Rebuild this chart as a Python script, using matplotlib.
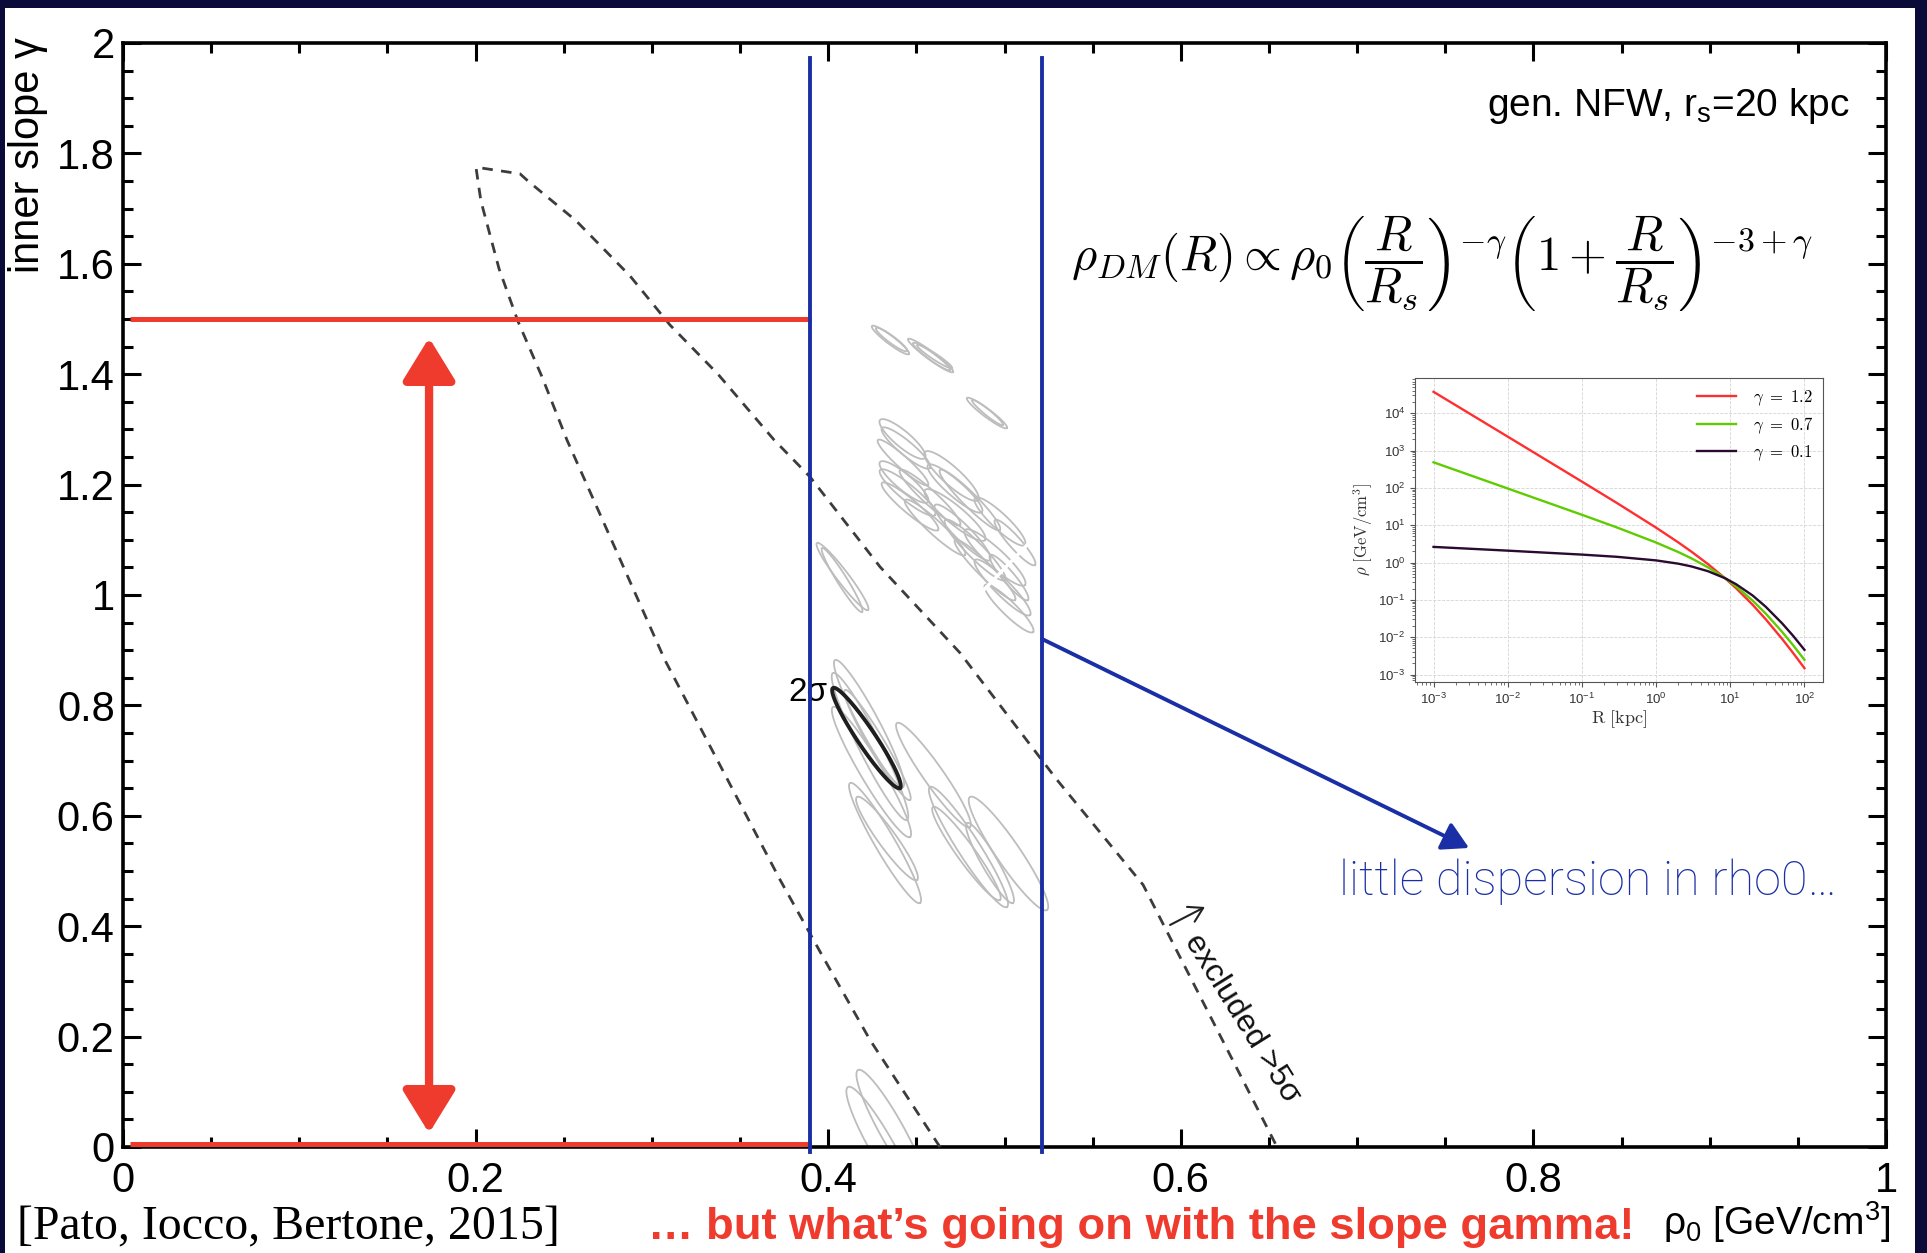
import numpy as np
import matplotlib
matplotlib.use('Agg')
import matplotlib.pyplot as plt
from matplotlib.patches import Rectangle, FancyArrowPatch
from matplotlib.ticker import MultipleLocator, FixedLocator, FixedFormatter

plt.rcParams['font.family'] = ['Liberation Sans', 'DejaVu Sans']
plt.rcParams['mathtext.fontset'] = 'cm'
plt.rcParams['mathtext.rm'] = 'Liberation Sans'
plt.rcParams['mathtext.it'] = 'Liberation Sans:italic'
plt.rcParams['mathtext.bf'] = 'Liberation Sans:bold'
plt.rcParams['mathtext.sf'] = 'Liberation Sans'

# ---------------- data ----------------
x_ticks = [0, 0.2, 0.4, 0.6, 0.8, 1.0]
x_ticklabels = ['0', '0.2', '0.4', '0.6', '0.8', '1']
y_ticks = [0, 0.2, 0.4, 0.6, 0.8, 1.0, 1.2, 1.4, 1.6, 1.8, 2.0]
y_ticklabels = ['0', '0.2', '0.4', '0.6', '0.8', '1', '1.2', '1.4', '1.6', '1.8', '2']

rho0_band = [0.3897, 0.5213]          # blue vertical lines
rho0_band_gamma = [-0.009, 1.973]
gamma_band = [0.006, 1.5]             # red horizontal lines
gamma_band_rho = [0.004, 0.39]
arrow_rho = 0.1736
arrow_gamma = [0.025, 1.466]

# excluded >5 sigma dashed boundaries
left_rho = [0.2002, 0.2030, 0.2133, 0.2240, 0.2377, 0.2518, 0.3074, 0.3727, 0.3971, 0.4237, 0.4634]
left_gamma = [1.775, 1.714, 1.591, 1.496, 1.395, 1.281, 0.882, 0.484, 0.344, 0.194, 0.0]
right_rho = [0.2002, 0.2252, 0.2297, 0.2570, 0.2876, 0.3103, 0.3375, 0.3693, 0.3897, 0.4294,
             0.4748, 0.5298, 0.5786, 0.6546]
right_gamma = [1.775, 1.763, 1.750, 1.678, 1.578, 1.489, 1.400, 1.281, 1.214, 1.051,
               0.895, 0.665, 0.475, 0.0]

# grey 2-sigma contours: major-axis end points (rho0, gamma) and semi-minor width (rho0 units)
ell_x1 = [0.4248, 0.4271, 0.4453, 0.4481, 0.4504, 0.4787, 0.4816, 0.3936, 0.3965,
          0.4294, 0.4305, 0.4294, 0.4294, 0.4305, 0.4549, 0.4566, 0.4549, 0.4606, 0.4833,
          0.4776, 0.4833, 0.4889, 0.4663, 0.4918,
          0.4282, 0.4407, 0.4634, 0.4719, 0.4946, 0.4436,
          0.4039, 0.4027, 0.4027, 0.4124, 0.4163, 0.4390, 0.4577, 0.4594, 0.4804, 0.4787, 0.4095,
          0.4169, 0.4112]
ell_y1 = [1.4873, 1.4837, 1.4638, 1.4565, 1.4529, 1.3569, 1.3533, 1.0942, 1.0851,
          1.3170, 1.3025, 1.2409, 1.2264, 1.2029, 1.2591, 1.2355, 1.1902, 1.1630, 1.1757,
          1.1178, 1.0634, 1.0181, 1.1359, 1.0725,
          1.2808, 1.2264, 1.2264, 1.0996, 1.1359, 1.1721,
          0.8822, 0.8587, 0.7971, 0.6594, 0.6341, 0.7681, 0.6522, 0.6159, 0.6341, 0.5870, 0.8279,
          0.1395, 0.1087]
ell_x2 = [0.4458, 0.4447, 0.4708, 0.4691, 0.4702, 0.5014, 0.4991, 0.4226, 0.4192,
          0.4549, 0.4577, 0.4566, 0.4606, 0.4623, 0.4850, 0.4872, 0.4889, 0.4918, 0.5116,
          0.5116, 0.5145, 0.5162, 0.5003, 0.5133,
          0.4566, 0.4748, 0.4974, 0.5060, 0.5173, 0.4776,
          0.4424, 0.4447, 0.4464, 0.4521, 0.4504, 0.4804, 0.5014, 0.4974, 0.5241, 0.5048, 0.4464,
          0.4549, 0.4492]
ell_y2 = [1.4366, 1.4420, 1.4040, 1.4076, 1.4112, 1.3025, 1.3080, 0.9728, 0.9692,
          1.2482, 1.2301, 1.1685, 1.1449, 1.1178, 1.1721, 1.1504, 1.0996, 1.0634, 1.0906,
          1.0181, 0.9638, 0.9330, 1.0272, 0.9909,
          1.1993, 1.1268, 1.1178, 0.9909, 1.0543, 1.0725,
          0.6522, 0.5924, 0.5616, 0.4420, 0.4837, 0.5797, 0.4348, 0.4475, 0.4293, 0.4420, 0.6286,
          -0.0779, -0.1051]
ell_w = [0.0023, 0.0020, 0.0023, 0.0020, 0.0017, 0.0023, 0.0017, 0.0034, 0.0028,
         0.0045, 0.0040, 0.0045, 0.0045, 0.0040, 0.0051, 0.0045, 0.0051, 0.0045, 0.0045,
         0.0051, 0.0045, 0.0040, 0.0045, 0.0034,
         0.0034, 0.0040, 0.0040, 0.0040, 0.0034, 0.0040,
         0.0057, 0.0062, 0.0062, 0.0057, 0.0051, 0.0057, 0.0062, 0.0051, 0.0068, 0.0045, 0.0045,
         0.0068, 0.0068]
cut_rho = [0.4844, 0.5128]
cut_gamma = [0.9964, 1.0906]
sigma2_ell = [0.4027, 0.8315, 0.4407, 0.6504, 0.0051]

# blue pointer arrow
pointer_from = (0.5213, 0.9203)
pointer_to = (0.7635, 0.5417)
# excluded arrow
excl_from = (0.5939, 0.4022)
excl_to = (0.6137, 0.4348)

# inset: generalized NFW profiles
inset_R = [0.001, 0.01, 0.1, 0.3, 1, 2, 3, 5, 8.5, 12, 20, 30, 50, 70, 100]
rho_g12 = [3.73e4, 2.35e3, 147, 38.7, 8.59, 3.44, 1.95, 0.909, 0.38, 0.204, 0.074, 0.0304, 0.0090, 0.00382, 0.00148]
rho_g07 = [483, 96, 19.0, 8.62, 3.43, 1.90, 1.29, 0.745, 0.38, 0.229, 0.0957, 0.0431, 0.0139, 0.00617, 0.00248]
rho_g01 = [2.62, 2.08, 1.63, 1.42, 1.14, 0.930, 0.785, 0.586, 0.38, 0.262, 0.131, 0.0656, 0.0235, 0.011, 0.00459]
inset_labels = [r'$\gamma\ =\ 1.2$', r'$\gamma\ =\ 0.7$', r'$\gamma\ =\ 0.1$']

# ---------------- figure ----------------
W, H = 1927, 1253
DPI = 100
NAVY = '#0b0b3a'
RED = '#ef3b2d'
BLUE = '#1a2fa6'
fig = plt.figure(figsize=(W / DPI, H / DPI), dpi=DPI, facecolor=NAVY)
fig.patches.append(Rectangle((5 / W, 0), (1915 - 5) / W, (H - 8) / H, transform=fig.transFigure,
                             facecolor='white', edgecolor='none', zorder=-10))

def fx(X):
    return X / W

def fy(Y):
    return 1 - Y / H

ax = fig.add_axes([fx(123), fy(1147), 1763 / W, 1104 / H])
ax.set_xlim(0, 1)
ax.set_ylim(0, 2)
ax.set_facecolor('white')
ax.xaxis.set_major_locator(FixedLocator(x_ticks))
ax.xaxis.set_major_formatter(FixedFormatter(x_ticklabels))
ax.yaxis.set_major_locator(FixedLocator(y_ticks))
ax.yaxis.set_major_formatter(FixedFormatter(y_ticklabels))
ax.xaxis.set_minor_locator(MultipleLocator(0.05))
ax.yaxis.set_minor_locator(MultipleLocator(0.05))
ax.tick_params(which='both', direction='in', top=True, right=True, width=2.2, color='black')
ax.tick_params(which='major', length=13, labelsize=30)
ax.tick_params(which='minor', length=7)
ax.tick_params(axis='x', pad=10)
ax.tick_params(axis='y', pad=6)
for s in ax.spines.values():
    s.set_linewidth(2.6)

# ellipses
def draw_ellipse(x1, y1, x2, y2, w, **kw):
    T = ax.transData
    p1 = T.transform((x1, y1))
    p2 = T.transform((x2, y2))
    c = (p1 + p2) / 2
    d = (p2 - p1) / 2
    L = np.hypot(d[0], d[1])
    n = np.array([-d[1], d[0]]) / L
    hw = T.transform((w, 0))[0] - T.transform((0, 0))[0]
    t = np.linspace(0, 2 * np.pi, 160)
    pts = c + np.outer(np.cos(t), d) + np.outer(np.sin(t), n * hw)
    dat = T.inverted().transform(pts)
    ax.plot(dat[:, 0], dat[:, 1], **kw)

for a, b, c_, d_, w in zip(ell_x1, ell_y1, ell_x2, ell_y2, ell_w):
    draw_ellipse(a, b, c_, d_, w, color='#bdbdbd', lw=1.3, zorder=2)
ax.plot(cut_rho, cut_gamma, color='white', lw=2.5, zorder=2.1)
draw_ellipse(*sigma2_ell, color='#1e1e1e', lw=2.8, zorder=3)
ax.text(0.3885, 0.8225, '2σ', fontsize=24, ha='center', va='center', color='black', zorder=4)

# dashed boundary
bx = list(left_rho[::-1]) + list(right_rho[1:])
by = list(left_gamma[::-1]) + list(right_gamma[1:])
ax.plot(bx, by, color='#3c3c3c', lw=2.0, ls=(0, (3.8, 3.0)), zorder=3, clip_on=False)

# red band + arrow
for g in gamma_band:
    ax.plot(gamma_band_rho, [g, g], color=RED, lw=3.6, zorder=5, clip_on=False, solid_capstyle='butt')
arr = FancyArrowPatch((arrow_rho, arrow_gamma[0]), (arrow_rho, arrow_gamma[1]),
                      arrowstyle='<|-|>,head_length=1.3,head_width=0.8', mutation_scale=20,
                      color=RED, lw=6, shrinkA=0, shrinkB=0, zorder=5)
ax.add_patch(arr)

# blue lines
for r in rho0_band:
    ax.plot([r, r], rho0_band_gamma, color=BLUE, lw=2.8, zorder=6, clip_on=False)
ax.annotate('', xy=pointer_to, xytext=pointer_from,
            arrowprops=dict(arrowstyle='-|>,head_length=0.8,head_width=0.45', mutation_scale=20,
                            color=BLUE, lw=2.8, shrinkA=0, shrinkB=0), zorder=6)

# excluded label
ax.annotate('', xy=excl_to, xytext=excl_from,
            arrowprops=dict(arrowstyle='->,head_length=0.5,head_width=0.3', mutation_scale=20,
                            color='#222222', lw=1.5, shrinkA=0, shrinkB=0))
ax.text(0.6345, 0.232, 'excluded >5σ', fontsize=23, rotation=-58, rotation_mode='anchor',
        ha='center', va='center', color='#111111')

# in-plot texts
ax.text(0.9796, 1.885, r'gen. NFW, r$_\mathrm{s}$=20 kpc', fontsize=28, ha='right', va='center',
        math_fontfamily='custom')
ax.text(0.538, 1.60,
        r'$\rho_{DM}(R) \propto \rho_0 \left(\dfrac{R}{R_s}\right)^{-\gamma}\left(1+\dfrac{R}{R_s}\right)^{-3+\gamma}$',
        fontsize=35, ha='left', va='center', math_fontfamily='cm')
ax.text(0.690, 0.480, 'little dispersion in rho0…', fontsize=35, ha='left', va='center',
        color=BLUE, family=['Roboto', 'Liberation Sans'], weight='light')

# axis labels and footer
fig.text(fx(28), fy(155), 'inner slope γ', rotation=90, fontsize=30, ha='center', va='center')
fig.text(fx(1890), fy(1222), r'ρ$_0$ [GeV/cm$^3$]', fontsize=28, ha='right', va='center',
         math_fontfamily='custom')
fig.text(fx(17), fy(1227), '[Pato, Iocco, Bertone, 2015]', fontsize=34.5, ha='left', va='center',
         family=['Liberation Serif', 'DejaVu Serif'])
fig.text(fx(648), fy(1227), '… but what’s going on with the slope gamma!', fontsize=32.7,
         ha='left', va='center', color=RED, weight='bold')

# ---------------- inset ----------------
axi = fig.add_axes([fx(1415), fy(682), 408 / W, 304 / H])
axi.set_xscale('log')
axi.set_yscale('log')
axi.plot(inset_R, rho_g12, color='#ff2f2f', lw=1.7, label=inset_labels[0])
axi.plot(inset_R, rho_g07, color='#5fcc00', lw=1.7, label=inset_labels[1])
axi.plot(inset_R, rho_g01, color='#2a0a30', lw=1.7, label=inset_labels[2])
axi.set_xticks([1e-3, 1e-2, 1e-1, 1e0, 1e1, 1e2])
axi.set_yticks([1e-3, 1e-2, 1e-1, 1e0, 1e1, 1e2, 1e3, 1e4])
axi.grid(True, which='major', ls='--', lw=0.6, color='#d4d4d4')
axi.tick_params(which='both', labelsize=9.5, color='#555555', labelcolor='#333333')
for s in axi.spines.values():
    s.set_color('#555555')
    s.set_linewidth(0.8)
axi.set_xlabel(r'$\mathrm{R\ [kpc]}$', fontsize=13, color='#333333', labelpad=1)
axi.set_ylabel(r'$\rho\ [\mathrm{GeV/cm^3}]$', fontsize=12, color='#333333', labelpad=2)
axi.legend(loc='upper right', frameon=False, fontsize=12, handlelength=2.35, labelspacing=0.45,
           borderaxespad=0.2, handletextpad=1.0)

fig.savefig('out.png', dpi=DPI, facecolor=NAVY)
